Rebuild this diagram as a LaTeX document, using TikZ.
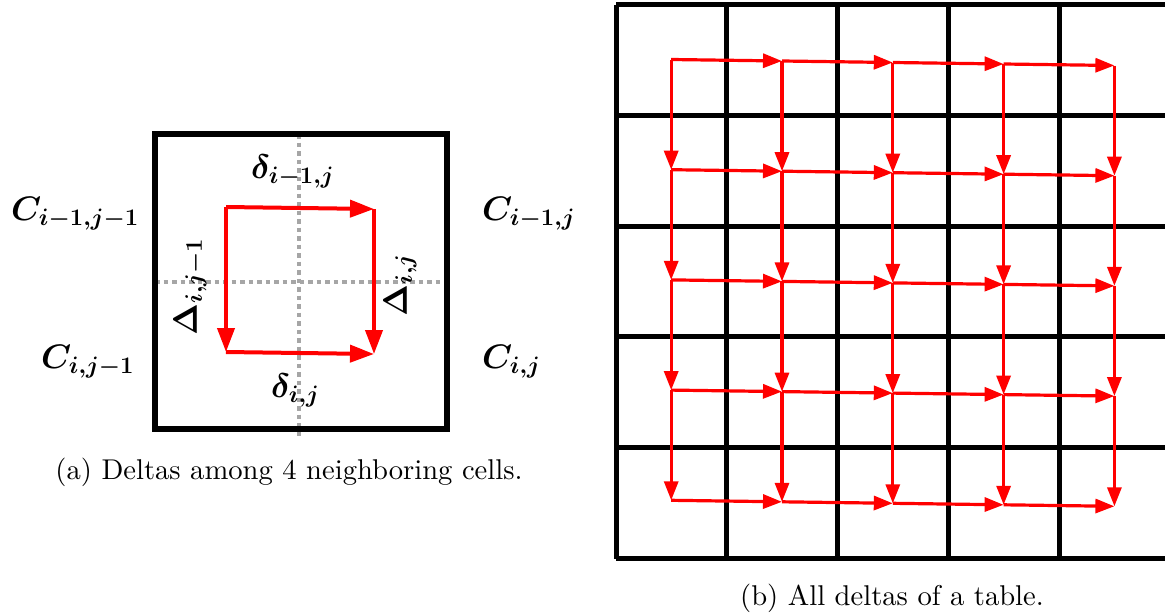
\RequirePackage{fix-cm}
\documentclass[tikz,border=0pt]{standalone}
\usepackage{amsmath,amssymb,graphicx}
\usetikzlibrary{arrows.meta}
\definecolor{deltared}{HTML}{FF0000}
\definecolor{guide}{HTML}{A6A6A6}
\newcommand{\labsize}{\fontsize{34}{40}\selectfont}
\newcommand{\captext}[1]{\scalebox{2.86}{\fontsize{10}{12}\selectfont #1}}
\tikzset{
 every node/.append style={inner sep=0pt},
 cellwall/.style={draw=black,line width=5.5pt},
 gridwall/.style={draw=black,line width=5pt},
 guideline/.style={draw=guide,line width=3.8pt,dash pattern=on 4.5pt off 4pt},
 delta/.style={-{Triangle[length=24pt,width=17pt]},draw=deltared,line width=4pt},
 griddelta/.style={-{Triangle[length=19pt,width=14pt]},draw=deltared,line width=3.2pt},
 cellname/.style={font=\labsize},
 caption/.style={},
}

\begin{document}
\begin{tikzpicture}[x=1pt,y=-1pt]

\useasboundingbox (0,0) rectangle (1165,613);
% (a) deltas among 4 neighboring cells
\draw[guideline] (299,134) -- (299,438);
\draw[guideline] (155,282) -- (445,282);
\draw[cellwall] (155,134) rectangle (447,429);

\coordinate (tl) at (226,207);
\coordinate (tr) at (374,209);
\coordinate (bl) at (226,352);
\coordinate (br) at (374,354);
\draw[delta] (tl) -- (tr);
\draw[delta] (tl) -- (bl);
\draw[delta] (bl) -- (br);
\draw[delta] (tr) -- (br);

\node[cellname,anchor=base west] (cnw) at (11,220) {$\boldsymbol{C_{i-1,j-1}}$};
\node[cellname,anchor=base west] (cne) at (482,220) {$\boldsymbol{C_{i-1,j}}$};
\node[cellname,anchor=base west] (csw) at (41,368) {$\boldsymbol{C_{i,j-1}}$};
\node[cellname,anchor=base west] (cse) at (482,368) {$\boldsymbol{C_{i,j}}$};
\node[cellname,anchor=base west] (dtop) at (251,178) {$\boldsymbol{\delta_{i-1,j}}$};
\node[cellname,anchor=base west] (dbot) at (271,397) {$\boldsymbol{\delta_{i,j}}$};
\node[cellname,rotate=90] (Dleft) at (190,287) {$\boldsymbol{\Delta_{i,j-1}}$};
\node[cellname,rotate=90] (Dright) at (400,285) {$\boldsymbol{\Delta_{i,j}}$};

\node[caption,anchor=base] (capa) at (289,479) {\captext{(a) Deltas among 4 neighboring cells.}};

% (b) all deltas of a table
\foreach \k in {0,...,5} {
  \draw[gridwall] (616+110.8*\k,4.5) -- (616+110.8*\k,558.5);
  \draw[gridwall] (616,4.5+110.8*\k) -- (1170,4.5+110.8*\k);
}
\foreach \c in {0,...,4}
  \foreach \r in {0,...,4}
    \coordinate (p-\c-\r) at (671.2+110.8*\c,59.5+110.2*\r+1.5*\c);
\foreach \c [count=\cn from 1] in {0,...,4}
  \foreach \r [count=\rn from 1] in {0,...,4} {
    \ifnum\c<4 \draw[griddelta] (p-\c-\r) -- (p-\cn-\r); \fi
    \ifnum\r<4 \draw[griddelta] (p-\c-\r) -- (p-\c-\rn); \fi
  }

\node[caption,anchor=base] (capb) at (892,605) {\captext{(b) All deltas of a table.}};

\end{tikzpicture}
\end{document}
